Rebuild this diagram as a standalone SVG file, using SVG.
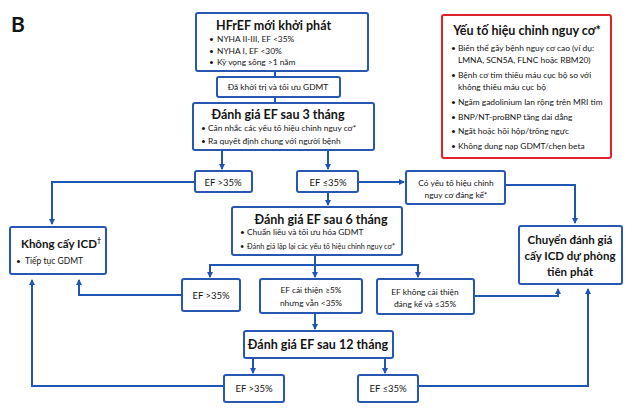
<svg xmlns="http://www.w3.org/2000/svg" width="636" height="411" viewBox="0 0 636 411">
<defs>
<marker id="ah" markerWidth="6" markerHeight="6" refX="5" refY="3" orient="auto" markerUnits="userSpaceOnUse">
<path d="M0,0 L6,3 L0,6 Z" fill="#1F56B5"/>
</marker>
<style>
text{font-family:Lato,"Liberation Sans","Noto Sans",sans-serif;fill:#141414}
.box{fill:#fff;stroke:#2757B3;stroke-width:2}
.red{fill:#fff;stroke:#E0232A;stroke-width:2}
.t{font-weight:bold;font-size:12.5px}
.tm{font-weight:bold;font-size:11.5px}
.b{font-size:8.4px}
.bs{font-size:7.3px}
.ef{font-size:9.5px}
.c{text-anchor:middle}
.ln{fill:none;stroke:#1F56B5;stroke-width:2}
.arr{fill:none;stroke:#1F56B5;stroke-width:2;marker-end:url(#ah)}
</style>
</defs>
<rect width="636" height="411" fill="#fff"/>
<text x="11" y="32" style="font-weight:bold;font-size:21px">B</text>

<g id="connectors">
<path class="ln" d="M275,71 V77"/>
<path class="ln" d="M275,97 V103"/>
<path class="arr" d="M222,150 V169"/>
<path class="arr" d="M328,150 V169"/>
<path class="arr" d="M195,182 H52 V224"/>
<path class="arr" d="M358,182 H404"/>
<path class="arr" d="M328,192 V205"/>
<path class="arr" d="M505,185 H575 V223"/>
<path class="ln" d="M210,265 H418"/>
<path class="arr" d="M315,255 V277"/>
<path class="arr" d="M210,264 V277"/>
<path class="arr" d="M418,264 V277"/>
<path class="arr" d="M182,295 H79 V280"/>
<path class="arr" d="M315,313 V329"/>
<path class="arr" d="M474,296 H558 V289"/>
<path class="arr" d="M253,358 V373"/>
<path class="arr" d="M385,358 V373"/>
<path class="arr" d="M224,386 H32 V280"/>
<path class="arr" d="M418,386 H588 V289"/>
</g>

<g id="hfref">
<rect class="box" x="196" y="13" width="172" height="58" rx="2"/>
<text class="t" x="216" y="30">HFrEF mới khởi phát</text>
<text class="b" y="42"><tspan x="209">•</tspan><tspan x="217">NYHA II-III, EF &lt;35%</tspan></text>
<text class="b" y="54"><tspan x="209">•</tspan><tspan x="217">NYHA I, EF &lt;30%</tspan></text>
<text class="b" y="65"><tspan x="209">•</tspan><tspan x="217">Kỳ vọng sống &gt;1 năm</tspan></text>
</g>

<g id="gdmt">
<rect class="box" x="217" y="77" width="123" height="20" rx="2"/>
<text class="b c" x="278" y="90">Đã khởi trị và tối ưu GDMT</text>
</g>

<g id="m3">
<rect class="box" x="193" y="103" width="181" height="47" rx="2"/>
<text class="t c" x="278" y="119">Đánh giá EF sau 3 tháng</text>
<text class="b" y="131"><tspan x="201">•</tspan><tspan x="208">Cân nhắc các yếu tố hiệu chỉnh nguy cơ*</tspan></text>
<text class="b" y="144"><tspan x="201">•</tspan><tspan x="208">Ra quyết định chung với người bệnh</tspan></text>
</g>

<g id="risk">
<rect class="red" x="442" y="15" width="169" height="143" rx="2"/>
<text class="t c" x="527" y="35">Yếu tố hiệu chỉnh nguy cơ*</text>
<text class="b" y="51"><tspan x="451">•</tspan><tspan x="458">Biến thể gây bệnh nguy cơ cao (ví dụ:</tspan></text>
<text class="b" x="458" y="63">LMNA, SCN5A, FLNC hoặc RBM20)</text>
<text class="b" y="78"><tspan x="451">•</tspan><tspan x="458">Bệnh cơ tim thiếu máu cục bộ so với</tspan></text>
<text class="b" x="458" y="90">không thiếu máu cục bộ</text>
<text class="b" y="105"><tspan x="451">•</tspan><tspan x="458">Ngấm gadolinium lan rộng trên MRI tim</tspan></text>
<text class="b" y="120"><tspan x="451">•</tspan><tspan x="458">BNP/NT-proBNP tăng dai dẳng</tspan></text>
<text class="b" y="134"><tspan x="451">•</tspan><tspan x="458">Ngất hoặc hồi hộp/trống ngực</tspan></text>
<text class="b" y="149"><tspan x="451">•</tspan><tspan x="458">Không dung nạp GDMT/chẹn beta</tspan></text>
</g>

<g id="ef3a">
<rect class="box" x="195" y="171" width="57" height="21" rx="2"/>
<text class="ef c" x="223" y="185.5">EF &gt;35%</text>
</g>

<g id="ef3b">
<rect class="box" x="297" y="171" width="61" height="21" rx="2"/>
<text class="ef c" x="328" y="185.5">EF ≤35%</text>
</g>

<g id="riskq">
<rect class="box" x="406" y="171" width="99" height="33" rx="2"/>
<text class="b c" x="456" y="186">Có yếu tố hiệu chỉnh</text>
<text class="b c" x="456" y="197.5">nguy cơ đáng kể*</text>
</g>

<g id="noicd">
<rect class="box" x="10" y="227" width="96" height="47" rx="2"/>
<text x="21" y="248" style="font-weight:bold;font-size:11.5px">Không cấy ICD<tspan dy="-5" style="font-size:7px">†</tspan></text>
<text class="b" y="264"><tspan x="16">•</tspan><tspan x="25" style="font-size:8.5px">Tiếp tục GDMT</tspan></text>
</g>

<g id="m6">
<rect class="box" x="232" y="207" width="170" height="48" rx="2"/>
<text class="t c" x="321" y="224">Đánh giá EF sau 6 tháng</text>
<text class="b" y="235"><tspan x="240">•</tspan><tspan x="247">Chuẩn liều và tối ưu hóa GDMT</tspan></text>
<text class="bs" y="249"><tspan x="240">•</tspan><tspan x="247">Đánh giá lặp lại các yếu tố hiệu chỉnh nguy cơ*</tspan></text>
</g>

<g id="icd">
<rect class="box" x="519" y="226" width="103" height="58" rx="2"/>
<text class="tm c" x="570" y="244">Chuyển đánh giá</text>
<text class="tm c" x="570" y="260">cấy ICD dự phòng</text>
<text class="tm c" x="570" y="276">tiên phát</text>
</g>

<g id="ef6a">
<rect class="box" x="182" y="279" width="58" height="32" rx="2"/>
<text class="ef c" x="211" y="298.5">EF &gt;35%</text>
</g>

<g id="ef6b">
<rect class="box" x="260" y="279" width="102" height="34" rx="2"/>
<text class="b c" x="311" y="292.5">EF cải thiện ≥5%</text>
<text class="b c" x="311" y="306">nhưng vẫn &lt;35%</text>
</g>

<g id="ef6c">
<rect class="box" x="377" y="279" width="97" height="35" rx="2"/>
<text class="b c" x="425" y="294.5">EF không cải thiện</text>
<text class="b c" x="425" y="306.5">đáng kể và ≤35%</text>
</g>

<g id="m12">
<rect class="box" x="244" y="331" width="149" height="27" rx="2"/>
<text class="t c" x="318" y="348.5">Đánh giá EF sau 12 tháng</text>
</g>

<g id="ef12a">
<rect class="box" x="224" y="375" width="60" height="27" rx="2"/>
<text class="ef c" x="254" y="392">EF &gt;35%</text>
</g>

<g id="ef12b">
<rect class="box" x="358" y="375" width="60" height="27" rx="2"/>
<text class="ef c" x="388" y="392">EF ≤35%</text>
</g>
</svg>
